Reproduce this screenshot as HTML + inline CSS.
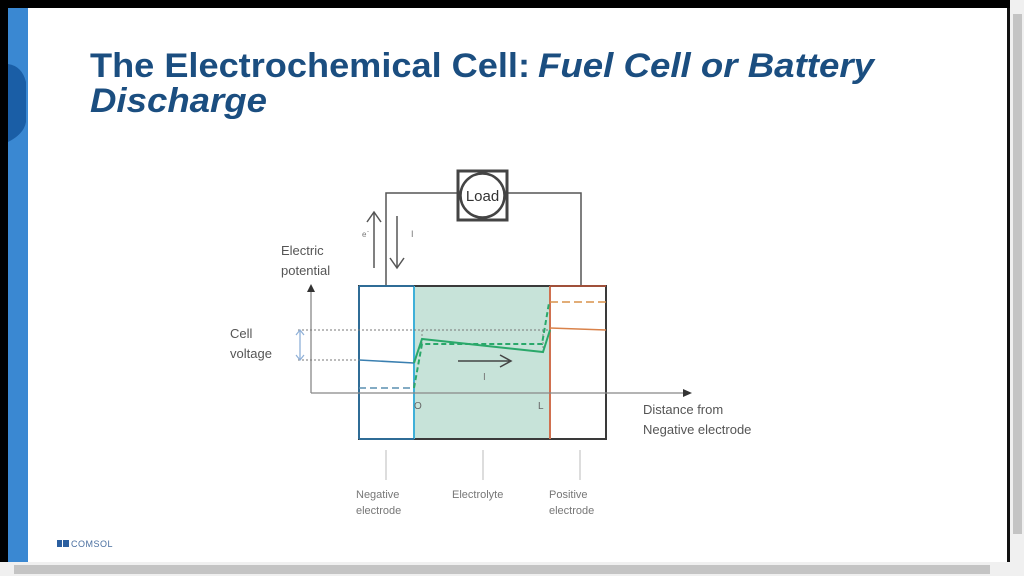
<!DOCTYPE html>
<html><head><meta charset="utf-8"><style>
html,body{margin:0;padding:0;width:1024px;height:576px;overflow:hidden;background:#fff}
svg{display:block}
</style></head><body>
<svg width="1024" height="576" viewBox="0 0 1024 576" xmlns="http://www.w3.org/2000/svg" font-family="Liberation Sans, sans-serif">
<rect x="0" y="0" width="1024" height="576" fill="#fff"/>
<rect x="0" y="0" width="1010" height="8" fill="#000"/>
<rect x="0" y="0" width="8" height="562" fill="#000"/>
<rect x="8" y="8" width="20" height="554" fill="#3a88d2"/>
<path d="M8 64 Q22 66 26 82 L26 122 Q24 134 8 142 Z" fill="#1a5ea6"/>
<rect x="1007" y="8" width="3" height="554" fill="#111"/>
<rect x="1010" y="0" width="14" height="576" fill="#f0f0f0"/>
<rect x="1013" y="14" width="9" height="520" fill="#c4c4c4"/>
<rect x="0" y="562" width="1010" height="14" fill="#f0f0f0"/>
<rect x="14" y="565" width="976" height="9" fill="#c4c4c4"/>

<text x="90" y="77" font-size="34" font-weight="bold" fill="#1b4e80" textLength="440" lengthAdjust="spacingAndGlyphs">The Electrochemical Cell:</text>
<text x="538" y="77" font-size="34" font-weight="bold" font-style="italic" fill="#1b4e80" textLength="336" lengthAdjust="spacingAndGlyphs">Fuel Cell or Battery</text>
<text x="90" y="112" font-size="34" font-weight="bold" font-style="italic" fill="#1b4e80" textLength="177" lengthAdjust="spacingAndGlyphs">Discharge</text>

<!-- circuit -->
<polyline points="386,286 386,193 457,193" fill="none" stroke="#555" stroke-width="1.5"/>
<polyline points="508,193 581,193 581,286" fill="none" stroke="#555" stroke-width="1.5"/>
<rect x="458" y="171" width="49" height="49" fill="#fff" stroke="#444" stroke-width="3"/>
<circle cx="482.5" cy="195.5" r="22" fill="#fff" stroke="#444" stroke-width="2.5"/>
<text x="482.5" y="201" font-size="15" fill="#333" text-anchor="middle">Load</text>

<line x1="374" y1="268" x2="374" y2="213" stroke="#555" stroke-width="1.5"/>
<polyline points="367,222 374,212 381,222" fill="none" stroke="#555" stroke-width="1.5"/>
<line x1="397" y1="216" x2="397" y2="268" stroke="#555" stroke-width="1.5"/>
<polyline points="390,258 397,268 404,258" fill="none" stroke="#555" stroke-width="1.5"/>
<text x="362" y="237" font-size="8" fill="#777">e</text><text x="367" y="233" font-size="6" fill="#777">-</text>
<text x="411" y="237" font-size="9" fill="#777">I</text>

<!-- cell -->
<rect x="414" y="286" width="136" height="153" fill="#c7e3d9"/>
<rect x="359" y="286" width="247" height="153" fill="none" stroke="#3a3a3a" stroke-width="2"/>
<line x1="414" y1="286" x2="414" y2="439" stroke="#3fb0d8" stroke-width="2"/>
<line x1="550" y1="286" x2="550" y2="439" stroke="#d0704f" stroke-width="2"/>
<line x1="359" y1="286" x2="414" y2="286" stroke="#2f6c96" stroke-width="2"/>
<line x1="359" y1="286" x2="359" y2="439" stroke="#2f6c96" stroke-width="2"/>
<line x1="359" y1="439" x2="414" y2="439" stroke="#2f6c96" stroke-width="2"/>
<line x1="550" y1="286" x2="606" y2="286" stroke="#a0503a" stroke-width="2"/>

<!-- axes -->
<line x1="311" y1="393" x2="311" y2="290" stroke="#888" stroke-width="1.3"/>
<polygon points="307,292 311,284 315,292" fill="#333"/>
<line x1="311" y1="393" x2="684" y2="393" stroke="#888" stroke-width="1.3"/>
<polygon points="683,389 692,393 683,397" fill="#333"/>

<line x1="298" y1="330" x2="550" y2="330" stroke="#777" stroke-width="1" stroke-dasharray="2,2"/>
<line x1="298" y1="360" x2="359" y2="360" stroke="#777" stroke-width="1" stroke-dasharray="2,2"/>
<line x1="422" y1="330" x2="422" y2="345" stroke="#888" stroke-width="1" stroke-dasharray="2,2"/>
<line x1="543" y1="330" x2="543" y2="352" stroke="#888" stroke-width="1" stroke-dasharray="2,2"/>
<line x1="300" y1="331" x2="300" y2="359" stroke="#8fb0d8" stroke-width="1.3"/>
<polyline points="296,335 300,330 304,335" fill="none" stroke="#8fb0d8" stroke-width="1.2"/>
<polyline points="296,355 300,360 304,355" fill="none" stroke="#8fb0d8" stroke-width="1.2"/>

<!-- curves -->
<polyline points="359,360 414,363" fill="none" stroke="#3a7fb0" stroke-width="1.6"/>
<polyline points="359,388 414,388 414,382" fill="none" stroke="#5a8fb0" stroke-width="1.6" stroke-dasharray="7,4"/>
<polyline points="414,363 422,339 543,352 550,330" fill="none" stroke="#2aa86a" stroke-width="2"/>
<polyline points="414,388 422,344 542,344 549,303" fill="none" stroke="#2aa86a" stroke-width="2" stroke-dasharray="5,3"/>
<line x1="550" y1="302" x2="606" y2="302" stroke="#d9924a" stroke-width="1.6" stroke-dasharray="8,4"/>
<line x1="550" y1="328" x2="606" y2="330" stroke="#d9824a" stroke-width="1.6"/>

<line x1="458" y1="361" x2="510" y2="361" stroke="#444" stroke-width="1.5"/>
<polyline points="500,355 511,361 500,367" fill="none" stroke="#444" stroke-width="1.5"/>
<text x="483" y="380" font-size="10" fill="#777">I</text>
<text x="414" y="409" font-size="10" fill="#666">O</text>
<text x="538" y="409" font-size="10" fill="#666">L</text>

<text x="281" y="255" font-size="13" fill="#555">Electric</text>
<text x="281" y="275" font-size="13" fill="#555">potential</text>
<text x="230" y="338" font-size="13" fill="#555">Cell</text>
<text x="230" y="358" font-size="13" fill="#555">voltage</text>
<text x="643" y="414" font-size="13" fill="#555">Distance from</text>
<text x="643" y="434" font-size="13" fill="#555">Negative electrode</text>

<line x1="386" y1="450" x2="386" y2="480" stroke="#bbb" stroke-width="1"/>
<line x1="483" y1="450" x2="483" y2="480" stroke="#bbb" stroke-width="1"/>
<line x1="580" y1="450" x2="580" y2="480" stroke="#bbb" stroke-width="1"/>
<text x="356" y="498" font-size="11" fill="#777">Negative</text>
<text x="356" y="514" font-size="11" fill="#777">electrode</text>
<text x="452" y="498" font-size="11" fill="#777">Electrolyte</text>
<text x="549" y="498" font-size="11" fill="#777">Positive</text>
<text x="549" y="514" font-size="11" fill="#777">electrode</text>

<polygon points="57,540 62,540 62,547 57,547" fill="#2b5fa0"/>
<rect x="63" y="540" width="6" height="7" fill="#2b5fa0"/>
<text x="71" y="547" font-size="9" fill="#4a6fa0" letter-spacing="0.5">COMSOL</text>
</svg>
</body></html>
